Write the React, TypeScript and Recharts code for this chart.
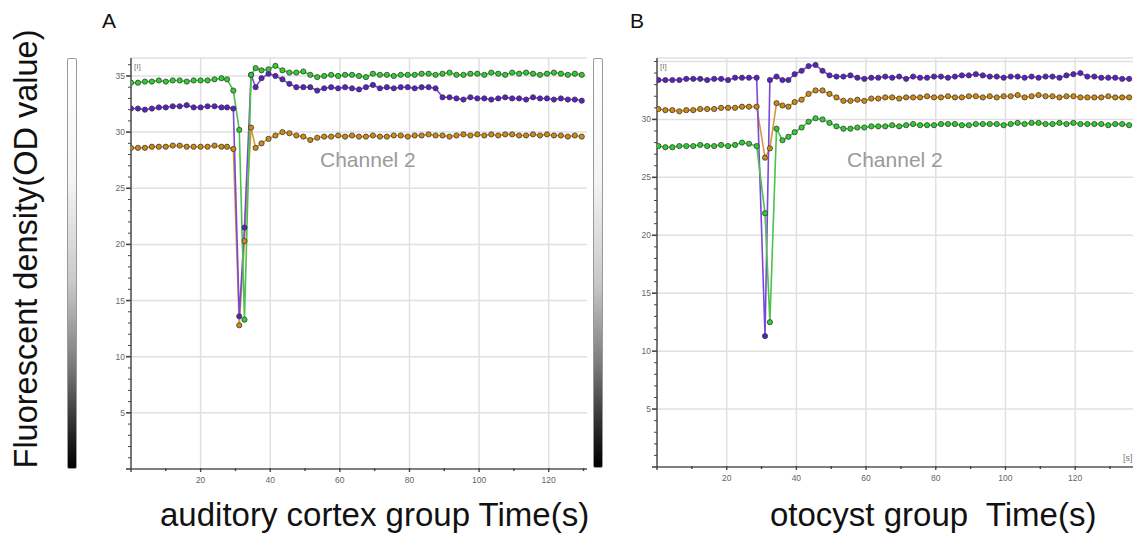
import React from "react";
import { LineChart, Line, XAxis, YAxis, CartesianGrid } from "recharts";

// panel A: auditory cortex group
const timeA = [
  0, 2, 4, 6, 8, 10, 12, 14, 16, 18, 20, 22, 24, 26, 27.6, 29.4, 31.1, 32.6, 34.5, 35.8,
  37.5, 39.5, 41.5, 43.5, 45.5, 47.5, 49.5, 51.5, 53.5, 55.5, 57.5, 59.5, 61.5, 63.5, 65.5,
  67.5, 69.5, 71.5, 73.5, 75.5, 77.5, 79.5, 81.5, 83.5, 85.5, 87.5, 89.5, 91.5, 93.5, 95.5,
  97.5, 99.5, 101.5, 103.5, 105.5, 107.5, 109.5, 111.5, 113.5, 115.5, 117.5, 119.5, 121.5,
  123.5, 125.5, 127.5, 129.5,
];
const greenA = [
  34.4, 34.4, 34.5, 34.5, 34.6, 34.5, 34.6, 34.6, 34.5, 34.6, 34.6, 34.6, 34.7, 34.8, 34.7,
  33.7, 30.2, 13.3, 35.1, 35.7,
  35.5, 35.6, 35.9, 35.5, 35.3, 35.3, 35.4, 35.1, 34.9, 35.0, 35.1, 35.0, 35.1, 35.1, 35.0,
  34.9, 35.2, 35.1, 35.1, 35.0, 35.1, 35.1, 35.1, 35.2, 35.2, 35.1, 35.2, 35.3, 35.1, 35.1,
  35.2, 35.2, 35.1, 35.3, 35.2, 35.1, 35.3, 35.2, 35.3, 35.2, 35.1, 35.2, 35.3,
  35.2, 35.1, 35.2, 35.1,
];
const purpleA = [
  32.1, 32.1, 32.0, 32.1, 32.2, 32.2, 32.3, 32.3, 32.4, 32.2, 32.2, 32.3, 32.3, 32.2, 32.2,
  32.1, 13.6, 21.5, 35.1, 34.0,
  34.8, 35.2, 35.0, 34.7, 34.3, 34.0, 34.0, 34.0, 33.7, 33.9, 34.0, 33.9, 34.0, 33.9, 33.8,
  34.0, 34.2, 33.9, 34.0, 33.9, 34.0, 34.0, 33.9, 34.0, 34.0, 33.9, 33.1, 33.1, 33.0, 32.9,
  33.1, 33.0, 33.0, 32.9, 33.0, 33.1, 33.0, 33.0, 32.9, 33.1, 33.0, 33.0, 32.9,
  33.0, 32.9, 32.9, 32.8,
];
const orangeA = [
  28.6, 28.6, 28.6, 28.7, 28.7, 28.7, 28.8, 28.8, 28.7, 28.7, 28.7, 28.7, 28.8, 28.7, 28.7,
  28.5, 12.8, 20.3, 30.4, 28.6,
  29.0, 29.4, 29.7, 30.0, 29.9, 29.7, 29.6, 29.3, 29.5, 29.6, 29.6, 29.7, 29.6, 29.7, 29.6,
  29.6, 29.7, 29.6, 29.6, 29.7, 29.7, 29.6, 29.7, 29.7, 29.8, 29.7, 29.7, 29.6, 29.7, 29.8,
  29.7, 29.8, 29.7, 29.8, 29.7, 29.8, 29.8, 29.7, 29.7, 29.8, 29.7, 29.8, 29.7,
  29.7, 29.6, 29.7, 29.6,
];

// panel B: otocyst group
const timeB = [
  0.4, 2.4, 4.4, 6.4, 8.4, 10.4, 12.4, 14.4, 16.4, 18.4, 20.4, 22.4, 24.4, 26.4, 28.6, 31,
  32.4, 34.3, 36, 37.7,
  39.5, 41.5, 43.5, 45.5, 47.5, 49.5, 51.5, 53.5, 55.5, 57.5, 59.5, 61.5, 63.5, 65.5, 67.5,
  69.5, 71.5, 73.5, 75.5, 77.5, 79.5, 81.5, 83.5, 85.5, 87.5, 89.5, 91.5, 93.5, 95.5, 97.5,
  99.5, 101.5, 103.5, 105.5, 107.5, 109.5, 111.5, 113.5, 115.5, 117.5, 119.5, 121.5, 123.5,
  125.5, 127.5, 129.5, 131.5, 133.5, 135.5,
];
const purpleB = [
  33.4, 33.4, 33.4, 33.4, 33.5, 33.5, 33.5, 33.4, 33.5, 33.5, 33.4, 33.6, 33.6, 33.6, 33.6,
  11.3, 33.4, 33.7, 33.4, 33.4,
  33.9, 34.2, 34.6, 34.7, 34.2, 33.8, 33.7, 33.7, 33.8, 33.6, 33.5, 33.6, 33.6, 33.7, 33.6,
  33.7, 33.5, 33.7, 33.6, 33.6, 33.7, 33.7, 33.6, 33.7, 33.8, 33.8, 33.9, 33.8, 33.7, 33.7,
  33.6, 33.7, 33.7, 33.6, 33.7, 33.6, 33.7, 33.7, 33.6, 33.8, 33.9, 34.0, 33.7,
  33.7, 33.6, 33.6, 33.6, 33.5, 33.5,
];
const orangeB = [
  30.9, 30.8, 30.8, 30.7, 30.8, 30.8, 30.9, 30.9, 30.9, 31.0, 31.0, 31.0, 31.1, 31.1, 31.1,
  26.7, 27.5, 31.4, 31.2, 31.1,
  31.5, 31.7, 32.2, 32.5, 32.5, 32.2, 31.9, 31.6, 31.6, 31.7, 31.6, 31.8, 31.8, 31.9, 31.9,
  31.8, 31.9, 31.9, 31.9, 32.0, 31.9, 31.9, 32.0, 31.9, 31.9, 32.0, 32.0, 31.9, 32.0, 31.9,
  32.0, 32.0, 32.1, 31.9, 32.0, 32.1, 32.0, 32.0, 31.9, 32.0, 32.0, 31.9, 31.9,
  31.9, 31.9, 32.0, 31.9, 31.9, 31.9,
];
const greenB = [
  27.7, 27.6, 27.6, 27.7, 27.7, 27.7, 27.8, 27.7, 27.7, 27.8, 27.7, 27.8, 28.0, 27.9, 27.7,
  21.9, 12.5, 29.2, 28.2, 28.5,
  28.9, 29.3, 29.8, 30.1, 30.0, 29.7, 29.4, 29.2, 29.2, 29.3, 29.3, 29.4, 29.4, 29.4, 29.5,
  29.4, 29.5, 29.6, 29.5, 29.5, 29.5, 29.6, 29.6, 29.6, 29.5, 29.5, 29.6, 29.6, 29.6, 29.6,
  29.5, 29.6, 29.7, 29.6, 29.7, 29.7, 29.6, 29.6, 29.7, 29.6, 29.7, 29.6, 29.6,
  29.6, 29.6, 29.5, 29.6, 29.6, 29.5,
];

const yTicksA = [0, 1, 2, 3, 4, 5, 6, 7, 8, 9, 10, 11, 12, 13, 14, 15, 16, 17, 18, 19, 20, 21, 22, 23, 24, 25, 26, 27, 28, 29, 30, 31, 32, 33, 34, 35, 36];
const yTicksB = [0, 1, 2, 3, 4, 5, 6, 7, 8, 9, 10, 11, 12, 13, 14, 15, 16, 17, 18, 19, 20, 21, 22, 23, 24, 25, 26, 27, 28, 29, 30, 31, 32, 33, 34, 35];
const yLabelsA = [5, 10, 15, 20, 25, 30, 35];
const yLabelsB = [5, 10, 15, 20, 25, 30];
const xTicks = [0, 10, 20, 30, 40, 50, 60, 70, 80, 90, 100, 110, 120, 130];
const xLabels = [20, 40, 60, 80, 100, 120];

const FONT = "'Liberation Sans', Arial, sans-serif";
const GREEN = { line: "#4cc24c", dot: "#2fcf2f" };
const PURPLE = { line: "#7a48d8", dot: "#5a20c8" };
const ORANGE = { line: "#d39a3c", dot: "#d08a12" };

function makeRows(t: number[], g: number[], p: number[], o: number[]) {
  return t.map((x, i) => ({ t: x, green: g[i], purple: p[i], orange: o[i] }));
}

function yTick(labels: number[]) {
  return (props: any) => {
    const { x, y, payload } = props;
    const major = labels.includes(payload.value) || payload.value === 0;
    return (
      <g>
        <line x1={x - (major ? 5 : 3)} x2={x} y1={y} y2={y} stroke="#444" strokeWidth={major ? 1.6 : 1} />
        {labels.includes(payload.value) && (
          <text x={x - 6} y={y + 3} textAnchor="end" fontSize={8.5} fill="#666" fontFamily={FONT}>
            {payload.value}
          </text>
        )}
      </g>
    );
  };
}

function xTick(props: any) {
  const { x, y, payload } = props;
  const major = payload.value % 20 === 0;
  return (
    <g>
      <line x1={x} x2={x} y1={y - 1} y2={y + (major ? 3 : 2)} stroke="#444" strokeWidth={1.4} />
      {xLabels.includes(payload.value) && (
        <text x={x} y={y + 14} textAnchor="middle" fontSize={8.5} fill="#666" fontFamily={FONT}>
          {payload.value}
        </text>
      )}
    </g>
  );
}

function series(key: string, c: { line: string; dot: string }) {
  return (
    <Line
      key={key}
      type="linear"
      dataKey={key}
      stroke={c.line}
      strokeWidth={1.6}
      dot={{ r: 2.6, fill: c.dot, stroke: "#3a3a3a", strokeWidth: 0.8 }}
      isAnimationActive={false}
    />
  );
}

function Panel({
  left,
  width,
  height,
  right,
  rows,
  xMax,
  yMax,
  yTicks,
  yLabels,
}: {
  left: number;
  width: number;
  height: number;
  right: number;
  rows: any[];
  xMax: number;
  yMax: number;
  yTicks: number[];
  yLabels: number[];
}) {
  return (
    <div style={{ position: "absolute", left, top: 50 }}>
      <LineChart
        width={width}
        height={height}
        data={rows}
        margin={{ top: 8, right, bottom: 0, left: 0 }}
      >
        <CartesianGrid
          stroke="#e0e0e0"
          strokeWidth={1.5}
          horizontalValues={[5, 10, 15, 20, 25, 30, 35, yMax]}
          verticalValues={[20, 40, 60, 80, 100, 120]}
        />
        <XAxis
          dataKey="t"
          type="number"
          domain={[0, xMax]}
          ticks={xTicks}
          interval={0}
          height={20}
          tickSize={0}
          tickMargin={0}
          tickLine={false}
          axisLine={{ stroke: "#555", strokeWidth: 1.6 }}
          tick={xTick}
          allowDataOverflow
        />
        <YAxis
          type="number"
          domain={[0, yMax]}
          ticks={yTicks}
          interval={0}
          width={36}
          tickSize={0}
          tickMargin={0}
          tickLine={false}
          axisLine={{ stroke: "#555", strokeWidth: 1.6 }}
          tick={yTick(yLabels)}
          allowDataOverflow
        />
        {series("orange", ORANGE)}
        {series("purple", PURPLE)}
        {series("green", GREEN)}
      </LineChart>
    </div>
  );
}

function Bar({ left, height }: { left: number; height: number }) {
  return (
    <div
      style={{
        position: "absolute",
        left,
        top: 58,
        width: 8,
        height,
        border: "1px solid #9a9a9a",
        borderRadius: 2,
        background:
          "linear-gradient(to bottom, #ffffff 0%, #f4f4f4 30%, #c8c8c8 55%, #7a7a7a 75%, #222 92%, #000 100%)",
      }}
    />
  );
}

export default function App() {
  const rowsA = makeRows(timeA, greenA, purpleA, orangeA);
  const rowsB = makeRows(timeB, greenB, purpleB, orangeB);
  return (
    <div
      style={{
        position: "absolute",
        left: 0,
        top: 0,
        width: 1133,
        height: 535,
        overflow: "hidden",
        background: "#fff",
        fontFamily: FONT,
      }}
    >
      <Bar left={67} height={409} />
      <Bar left={593} height={408} />
      <Panel left={95} width={497} height={439} right={5} rows={rowsA} xMax={131} yMax={36.6} yTicks={yTicksA} yLabels={yLabelsA} />
      <Panel left={621} width={512} height={437} right={0} rows={rowsB} xMax={136.6} yMax={35.3} yTicks={yTicksB} yLabels={yLabelsB} />
      <svg width={1133} height={535} style={{ position: "absolute", left: 0, top: 0, pointerEvents: "none" }}>
        <g fontFamily={FONT}>
          <text x={102} y={28} fontSize={21} fill="#111">A</text>
          <text x={630} y={28} fontSize={21} fill="#111">B</text>
          <text transform="translate(37,249) rotate(-90)" textAnchor="middle" fontSize={32.5} fill="#111">
            Fluorescent density(OD value)
          </text>
          <text x={160} y={526} fontSize={33} fill="#111" style={{ whiteSpace: "pre" }}>
            auditory cortex group Time(s)
          </text>
          <text x={770} y={526} fontSize={33} fill="#111" style={{ whiteSpace: "pre" }}>
            {"otocyst group  Time(s)"}
          </text>
          <text x={320} y={167} fontSize={21} fill="#9a9a9a">Channel 2</text>
          <text x={847} y={167} fontSize={21} fill="#9a9a9a">Channel 2</text>
          <text x={134} y={69} fontSize={8} fill="#777">[I]</text>
          <text x={660} y={69} fontSize={8} fill="#777">[I]</text>
          <text x={1123} y={461} fontSize={9} fill="#777">[s]</text>
        </g>
      </svg>
    </div>
  );
}
